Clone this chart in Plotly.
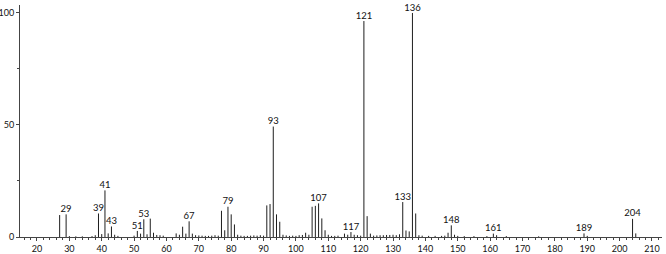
import plotly.graph_objects as go

# m/z values and relative intensities
mz = [27, 29, 30, 32, 34, 37, 38, 39, 40, 41, 42, 43, 44, 45, 50, 51, 52, 53, 54, 55,
      56, 57, 58, 59, 63, 64, 65, 66, 67, 68, 69, 70, 71, 72, 73, 74, 75, 76, 77, 78,
      79, 80, 81, 82, 83, 84, 85, 86, 87, 88, 89, 90, 91, 92, 93, 94, 95, 96, 97, 98,
      99, 100, 101, 102, 103, 104, 105, 106, 107, 108, 109, 110, 111, 112, 113, 115, 116, 117, 118, 119,
      120, 121, 122, 123, 124, 125, 126, 127, 128, 129, 130, 131, 132, 133, 134, 135, 136, 137, 138, 139,
      141, 143, 145, 146, 147, 148, 149, 150, 152, 155, 159, 161, 162, 165, 175, 189, 190, 204, 205]
intensity = [9.8, 10.1, 0.4, 0.3, 0.3, 0.4, 0.8, 10.5, 1.3, 20.8, 1.6, 4.7, 1.0, 0.5, 0.6, 2.7, 1.5, 7.9, 1.2, 8.2,
             1.9, 0.9, 0.8, 0.6, 1.6, 1.0, 4.6, 1.5, 7.0, 1.5, 0.8, 0.7, 0.6, 0.5, 0.5, 0.6, 0.8, 0.6, 11.7, 3.0,
             13.5, 10.1, 5.6, 1.0, 0.6, 0.5, 0.5, 0.6, 0.7, 0.6, 0.8, 0.6, 14.1, 14.7, 49.3, 10.1, 6.8, 1.0, 0.7, 0.5,
             0.6, 0.5, 0.8, 0.9, 1.9, 1.0, 13.5, 13.9, 15.0, 8.3, 3.0, 1.0, 0.5, 0.5, 0.6, 1.5, 1.0, 2.2, 1.0, 0.8,
             0.6, 96.4, 9.3, 1.5, 0.6, 0.7, 0.8, 0.8, 0.9, 0.9, 1.0, 0.8, 1.2, 15.6, 2.9, 2.5, 100.0, 10.5, 0.8, 0.6,
             0.5, 0.5, 0.5, 0.6, 1.9, 5.2, 1.0, 0.5, 0.4, 0.4, 0.4, 1.5, 0.8, 0.4, 0.3, 1.6, 0.5, 8.1, 1.6]
labeled = [29, 39, 41, 43, 51, 53, 67, 79, 93, 107, 117, 121, 133, 136, 148, 161, 189, 204]
x_ticks = list(range(20, 211, 10))
y_ticks = [0, 50, 100]

# stick spectrum: one vertical segment per m/z
stick_x, stick_y = [], []
for m, v in zip(mz, intensity):
    stick_x += [m, m, None]
    stick_y += [0, v, None]

lab_y = [intensity[mz.index(m)] for m in labeled]
lab_txt = [str(m) for m in labeled]

fig = go.Figure()
fig.add_trace(go.Scatter(x=stick_x, y=stick_y, mode="lines", connectgaps=False,
                         line=dict(color="#1e1e1e", width=1), hoverinfo="skip"))
fig.add_trace(go.Scatter(x=labeled, y=lab_y, mode="text", text=lab_txt,
                         textposition="top center", cliponaxis=False,
                         textfont=dict(family="Lato", size=9.5, color="#111")))

fig.update_layout(
    width=666, height=254, margin=dict(l=20, r=4, t=5, b=17, autoexpand=False),
    paper_bgcolor="white", plot_bgcolor="white", showlegend=False,
    xaxis=dict(range=[14.75, 213.1], tickvals=x_ticks, ticks="outside", ticklen=3,
               automargin=False,
               tickcolor="#444", tickwidth=1, showline=True, linecolor="#444", linewidth=1,
               showgrid=False, zeroline=False,
               tickfont=dict(family="Lato", size=9, color="#111"),
               minor=dict(dtick=2, tick0=0, ticks="outside", ticklen=2, tickcolor="#444")),
    yaxis=dict(range=[0, 103.56], tickvals=y_ticks, ticks="outside", ticklen=3,
               automargin=False,
               tickcolor="#444", tickwidth=1, showline=True, linecolor="#444", linewidth=1,
               showgrid=False, zeroline=False,
               tickfont=dict(family="Lato", size=9, color="#111"),
               minor=dict(dtick=25, tick0=0, ticks="outside", ticklen=2, tickcolor="#444")),
)
fig.write_html("out.html")
